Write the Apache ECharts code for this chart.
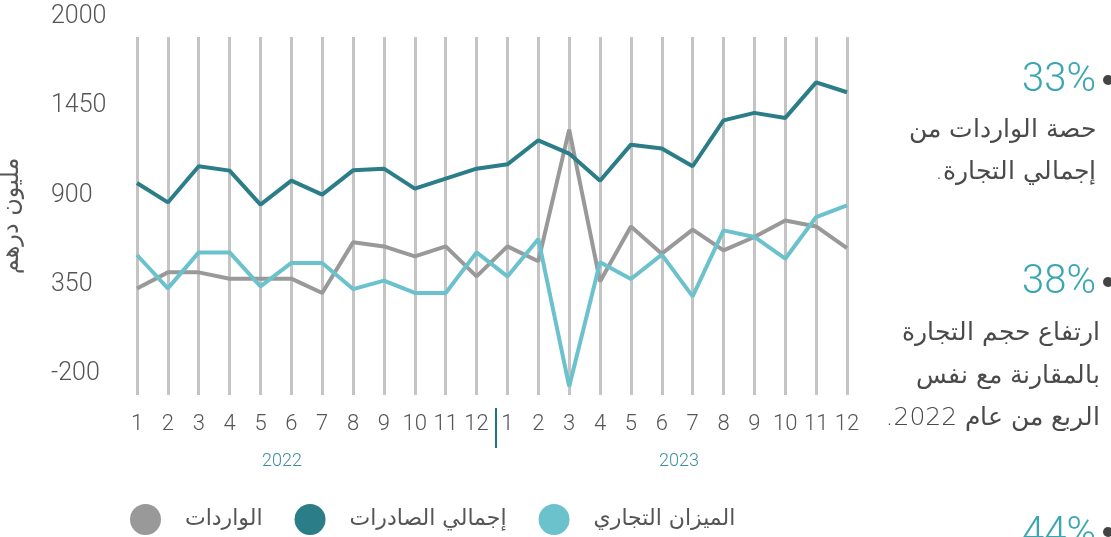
<!DOCTYPE html>
<html>
<head>
<meta charset="utf-8">
<script src="https://cdn.jsdelivr.net/npm/echarts@6/dist/echarts.min.js"></script>
<style>
	html, body { margin: 0; padding: 0; background: #fff; }
	#chart { width: 1111px; height: 537px; }
</style>
</head>
<body>
<div id="chart"></div>
<script>
	/*-----data-----*/
	var months = ['1', '2', '3', '4', '5', '6', '7', '8', '9', '10', '11', '12'];
	var years = ['2022', '2023'];
	var imports = [327, 426, 426, 387, 387, 387, 299, 611, 586, 525, 586, 401,
		586, 494, 1306, 370, 709, 541, 689, 561, 644, 746, 709, 576];
	var exports = [977, 857, 1080, 1053, 843, 991, 905, 1055, 1065, 942, 1004, 1065,
		1092, 1240, 1158, 991, 1213, 1189, 1080, 1363, 1409, 1378, 1597, 1536];
	var balance = [533, 327, 549, 549, 340, 484, 484, 323, 375, 299, 299, 549,
		401, 632, -277, 488, 385, 535, 278, 685, 644, 510, 767, 839];
	var yTicks = [-200, 350, 900, 1450, 2000];
	var seriesNames = ['الواردات', 'إجمالي الصادرات', 'الميزان التجاري'];
	var yName = 'مليون درهم';

	var categories = [];
	years.forEach(function(y) {
		months.forEach(function(m) {
			categories.push(y + '-' + m);
		});
	});

	var numFont = 'Roboto, "Noto Sans", sans-serif';
	var arFont = '"DejaVu Sans", "Noto Sans", sans-serif';
	var RLM = '\u200F';

	var chart = echarts.init(document.getElementById('chart'));
	var option = {
		animation: false,
		grid: [{
			left: 137,
			right: 264,
			top: 17,
			bottom: 142,
			containLabel: false,
			outerBoundsMode: 'none'
		}, {
			left: 137,
			right: 264,
			top: 37,
			bottom: 142,
			containLabel: false,
			outerBoundsMode: 'none'
		}],
		legend: {
			left: 125,
			top: 499,
			icon: 'circle',
			itemWidth: 31,
			itemHeight: 31,
			itemGap: 32,
			textStyle: {
				fontFamily: arFont,
				fontSize: 22,
				color: '#555',
				padding: [0, 0, 0, 19]
			},
			data: seriesNames
		},
		xAxis: [{
			type: 'category',
			gridIndex: 0,
			boundaryGap: false,
			data: categories,
			axisLine: { show: false },
			axisTick: { show: false },
			splitLine: { show: false },
			axisLabel: {
				interval: 0,
				margin: 18,
				fontFamily: numFont,
				fontWeight: 300,
				fontSize: 22,
				color: '#555',
				formatter: function(v) {
					return v.split('-')[1];
				}
			}
		}, {
			type: 'category',
			gridIndex: 1,
			boundaryGap: false,
			data: categories,
			axisLine: { show: false },
			axisTick: { show: false },
			axisLabel: { show: false },
			splitLine: {
				show: true,
				interval: 0,
				lineStyle: { color: '#c4c4c4', width: 3 }
			}
		}],
		yAxis: [{
			type: 'value',
			gridIndex: 0,
			min: -330,
			max: 2000,
			name: yName,
			nameLocation: 'middle',
			nameRotate: 90,
			nameGap: 113,
			nameTextStyle: {
				fontFamily: arFont,
				fontSize: 24,
				color: '#555',
				padding: [0, 20, 0, 0]
			},
			axisLine: { show: false },
			axisTick: { show: false },
			splitLine: { show: false },
			axisLabel: {
				customValues: yTicks,
				align: 'left',
				margin: 86,
				fontFamily: numFont,
				fontWeight: 300,
				fontSize: 25,
				color: '#555',
				formatter: function(v) {
					return String(v);
				}
			}
		}, {
			type: 'value',
			gridIndex: 1,
			show: false,
			splitLine: { show: false }
		}],
		graphic: [{
			type: 'line',
			shape: { x1: 496, y1: 408, x2: 496, y2: 448 },
			style: { stroke: '#1f7382', lineWidth: 2 }
		}, {
			type: 'text',
			x: 282, y: 461,
			style: { text: years[0], fill: '#3a8fa0', font: '300 18px ' + numFont, align: 'center', verticalAlign: 'middle' }
		}, {
			type: 'text',
			x: 679, y: 461,
			style: { text: years[1], fill: '#3a8fa0', font: '300 18px ' + numFont, align: 'center', verticalAlign: 'middle' }
		},
		// right side notes
		{
			type: 'circle', shape: { cx: 1108, cy: 80, r: 5 }, style: { fill: '#444' }
		}, {
			type: 'text', x: 1096, y: 81,
			style: { text: '33%', fill: '#3aa6b4', font: '300 40px ' + numFont, align: 'right', verticalAlign: 'middle' }
		}, {
			type: 'text', x: 1096, y: 130,
			style: { text: 'حصة الواردات من', fill: '#4a4a4a', font: '300 25px ' + arFont, align: 'right', verticalAlign: 'middle' }
		}, {
			type: 'text', x: 1096, y: 172,
			style: { text: 'إجمالي التجارة.' + RLM, fill: '#4a4a4a', font: '300 25px ' + arFont, align: 'right', verticalAlign: 'middle' }
		}, {
			type: 'circle', shape: { cx: 1108, cy: 282, r: 5 }, style: { fill: '#444' }
		}, {
			type: 'text', x: 1096, y: 283,
			style: { text: '38%', fill: '#3aa6b4', font: '300 40px ' + numFont, align: 'right', verticalAlign: 'middle' }
		}, {
			type: 'text', x: 1100, y: 333,
			style: { text: 'ارتفاع حجم التجارة', fill: '#4a4a4a', font: '300 25px ' + arFont, align: 'right', verticalAlign: 'middle' }
		}, {
			type: 'text', x: 1100, y: 376,
			style: { text: 'بالمقارنة مع نفس', fill: '#4a4a4a', font: '300 25px ' + arFont, align: 'right', verticalAlign: 'middle' }
		}, {
			type: 'text', x: 1100, y: 418,
			style: { text: RLM + 'الربع من عام 2022.' + RLM, fill: '#4a4a4a', font: '300 25px ' + arFont, align: 'right', verticalAlign: 'middle' }
		}, {
			type: 'circle', shape: { cx: 1108, cy: 532, r: 5 }, style: { fill: '#444' }
		}, {
			type: 'text', x: 1096, y: 535,
			style: { text: '44%', fill: '#3aa6b4', font: '300 40px ' + numFont, align: 'right', verticalAlign: 'middle' }
		}],
		series: [{
			name: seriesNames[0],
			type: 'line',
			xAxisIndex: 0,
			yAxisIndex: 0,
			data: imports,
			symbol: 'none',
			color: '#999999',
			lineStyle: { width: 4 }
		}, {
			name: seriesNames[1],
			type: 'line',
			xAxisIndex: 0,
			yAxisIndex: 0,
			data: exports,
			symbol: 'none',
			color: '#2b7d87',
			lineStyle: { width: 4 }
		}, {
			name: seriesNames[2],
			type: 'line',
			xAxisIndex: 0,
			yAxisIndex: 0,
			data: balance,
			symbol: 'none',
			color: '#6cc2cc',
			lineStyle: { width: 4 }
		}]
	};
	chart.setOption(option);
</script>
</body>
</html>
